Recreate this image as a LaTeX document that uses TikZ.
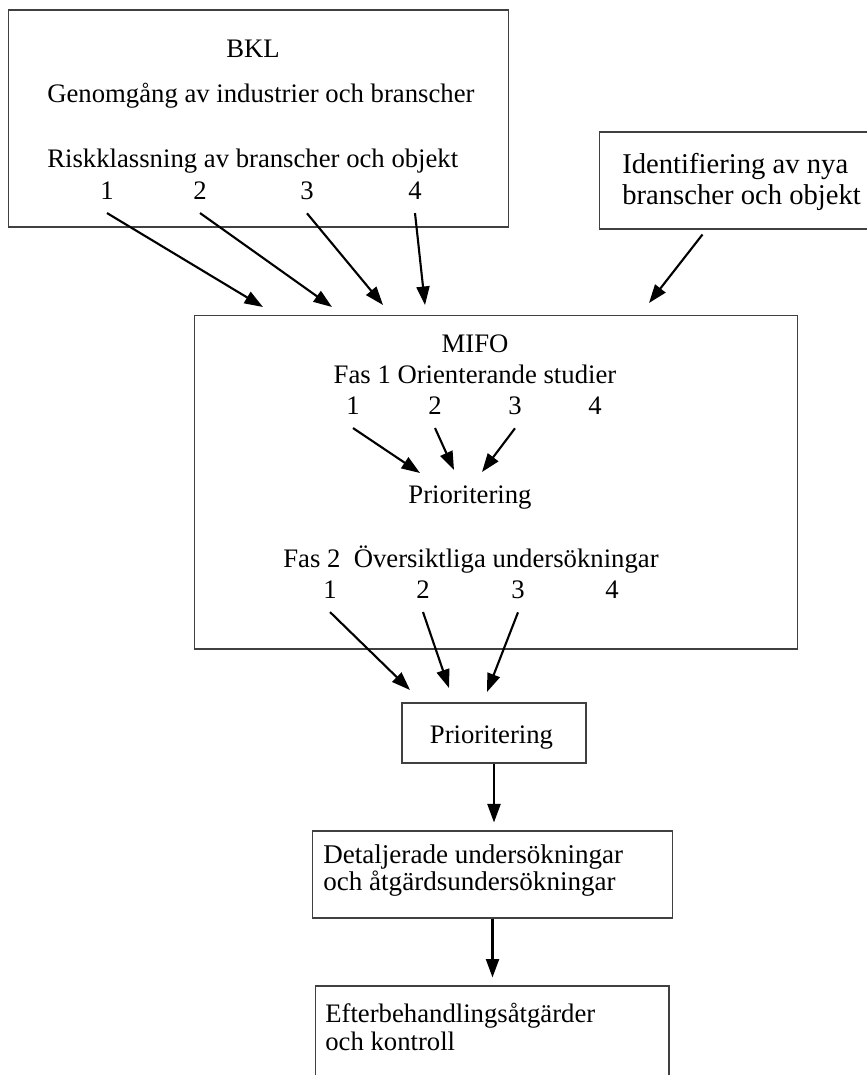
\documentclass[tikz,border=0pt]{standalone}
\usepackage{fontspec}
\setmainfont{Liberation Serif}
\usetikzlibrary{positioning, arrows.meta}

\begin{document}
\begin{tikzpicture}[x=0.02cm, y=-0.02cm,
                box/.style={draw=black!75, line width=0.6pt, inner sep=0pt},
                txt/.style={inner sep=0pt, font=\fontsize{15.2}{17.6}\selectfont},
                num/.style={txt, anchor=base, outer ysep=8pt},
                arr/.style={-{Triangle[length=0.37cm, width=0.26cm]}, line width=1.2pt}]
                \useasboundingbox (0,0) rectangle (866,1075);

                % boxes
                \node[box, minimum width=10.02cm, minimum height=4.34cm] (bkl) at (258.5,118.5) {};
                \node[box, minimum width=5.62cm, minimum height=1.94cm] (nya) at (739.5,180.5) {};
                \node[box, minimum width=12.08cm, minimum height=6.68cm] (mifo) at (496,482) {};
                \node[box, minimum width=3.68cm, minimum height=1.2cm] (prio) at (494,733) {};
                \node[box, minimum width=7.22cm, minimum height=1.74cm] (detalj) at (492.5,874.5) {};
                \node[box, minimum width=7.08cm, minimum height=2.28cm] (efter) at (492,1043) {};

                % BKL
                \node[txt, anchor=base] (bkltitel) at (253,57) {BKL};
                \node[txt, anchor=base west] (genomgang) at (47,102) {Genomgång av industrier och branscher};
                \node[txt, anchor=base west] (risk) at (47,167) {Riskklassning av branscher och objekt};
                \node[num] (b1) at (107,199) {1};
                \node[num] (b2) at (200,199) {2};
                \node[num] (b3) at (307,199) {3};
                \node[num] (b4) at (415,199) {4};
                \node[txt, anchor=base west, align=left, font=\fontsize{16.3}{17.6}\selectfont] (nyatext) at (622,204) {Identifiering av nya\\branscher och objekt};

                % MIFO
                \node[txt, anchor=base] (mifotitel) at (475,352) {MIFO};
                \node[txt, anchor=base] (fas1) at (475,383) {Fas 1 Orienterande studier};
                \node[num] (m1) at (353,414) {1};
                \node[num] (m2) at (435,414) {2};
                \node[num] (m3) at (515,414) {3};
                \node[num] (m4) at (595,414) {4};
                \node[txt, anchor=base] (prio1) at (470,503) {Prioritering};
                \node[txt, anchor=base] (fas2) at (471,567) {Fas 2\ \ Översiktliga undersökningar};
                \node[num] (n1) at (330,598) {1};
                \node[num] (n2) at (423,598) {2};
                \node[num] (n3) at (518,598) {3};
                \node[num] (n4) at (612,598) {4};

                % lower boxes
                \node[txt, anchor=base] (priotext) at (491.5,743) {Prioritering};
                \node[txt, anchor=base west, align=left, font=\fontsize{15.4}{15.3}\selectfont] (detaljtext) at (323,890) {Detaljerade undersökningar\\och åtgärdsundersökningar};
                \node[txt, anchor=base west, align=left, font=\fontsize{15.2}{15.9}\selectfont] (eftertext) at (325,1050) {Efterbehandlingsåtgärder\\och kontroll};

                % arrow ends
                \coordinate (t1) at (263,307);
                \coordinate (t2) at (332,307);
                \coordinate (t3) at (383,305);
                \coordinate (t4) at (425,305);
                \coordinate (t5) at (649,303);
                \coordinate (p1) at (420,473);
                \coordinate (p2) at (454,470);
                \coordinate (p3) at (482,472);
                \coordinate (q1) at (410,690);
                \coordinate (q2) at (449,688);
                \coordinate (q3) at (487,692);

                \draw[arr] (b1.south) -- (t1);
                \draw[arr] (b2.south) -- (t2);
                \draw[arr] (b3.south) -- (t3);
                \draw[arr] (b4.south) -- (t4);
                \draw[arr] ([xshift=2.08cm, yshift=-0.1cm]nya.south west) -- (t5);

                \draw[arr] (m1.south) -- (p1);
                \draw[arr] (m2.south) -- (p2);
                \draw[arr] (m3.south) -- (p3);

                \draw[arr] (n1.south) -- (q1);
                \draw[arr] (n2.south) -- (q2);
                \draw[arr] (n3.south) -- (q3);

                \draw[arr] (prio.south) -- ([yshift=0.16cm]prio.south |- detalj.north);
                \draw[arr] (detalj.south) -- ([yshift=0.16cm]detalj.south |- efter.north);
            \end{tikzpicture}
\end{document}
